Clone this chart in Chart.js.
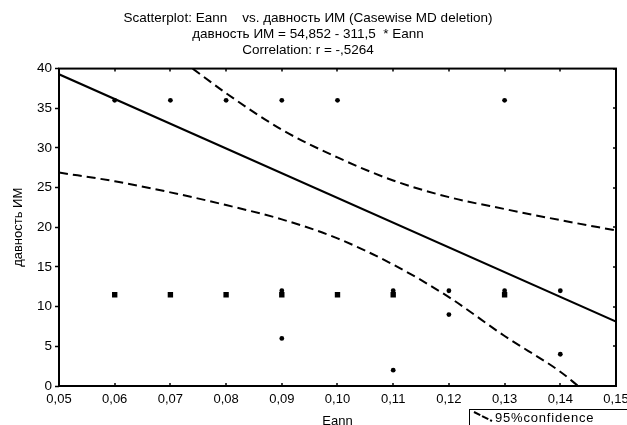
<!DOCTYPE html>
<html>
<head>
<meta charset="utf-8">
<script src="https://cdn.jsdelivr.net/npm/chart.js@4.4.1/dist/chart.umd.min.js"></script>
<style>
  html, body { margin: 0; padding: 0; background: #fff; overflow: hidden; }
  #wrap { width: 627px; height: 425px; overflow: hidden; background: #fff; }
</style>
</head>
<body>
<div id="wrap"><canvas id="scatter" width="640" height="440"></canvas></div>
<script>
// observed cases (single dots)
const eannDots = [0.06, 0.07, 0.08, 0.09, 0.10, 0.13, 0.09, 0.09, 0.11, 0.11, 0.12, 0.12, 0.13, 0.14, 0.14];
const imDots   = [36,   36,   36,   36,   36,   36,   12,   6,    12,   2,    12,   9,    12,   12,   4];

// repeated cases (drawn as heavier squares)
const eannStack = [0.06, 0.07, 0.08, 0.09, 0.10, 0.11, 0.13];
const imStack   = [11.5, 11.5, 11.5, 11.5, 11.5, 11.5, 11.5];

// regression line: давность ИМ = 54,852 - 311,5 * Eann
const fitX = [0.05, 0.15];
const fitY = [39.28, 8.13];

// 95% confidence band
const upperX = [0.074, 0.08, 0.09, 0.10, 0.11, 0.12, 0.13, 0.14, 0.15];
const upperY = [40,    36.9, 32.3, 28.8, 25.9, 23.8, 22.3, 20.9, 19.6];
const lowerX = [0.05, 0.06, 0.07, 0.08, 0.09, 0.10, 0.11, 0.12, 0.13, 0.14, 0.1432];
const lowerY = [26.9, 25.8, 24.4, 22.8, 21.0, 18.6, 15.3, 11.2, 6.3,  1.8,  0];

const xMin = 0.05, xMax = 0.15, xStep = 0.01;
const yMin = 0, yMax = 40, yStep = 5;

const titleLines = [
  'Scatterplot: Eann    vs. давность ИМ (Casewise MD deletion)',
  'давность ИМ = 54,852 - 311,5  * Eann',
  'Correlation: r = -,5264'
];
const xTitle = 'Eann';
const yTitle = 'давность ИМ';
const legendText = '95%confidence';

const FONT = 'Liberation Sans, Arial, sans-serif';
const DASH = [9, 5];

const pts = (xs, ys) => xs.map((x, i) => ({ x, y: ys[i] }));

/* frame, inner tick marks and the confidence legend */
const framePlugin = {
  id: 'frame',
  afterDraw(chart) {
    const { ctx, chartArea: a, scales: { x, y } } = chart;
    ctx.save();
    ctx.strokeStyle = '#000';
    ctx.lineWidth = 2;
    ctx.strokeRect(a.left, a.top, a.right - a.left, a.bottom - a.top);

    ctx.lineWidth = 1.5;
    ctx.beginPath();
    x.ticks.forEach(t => {
      const px = Math.round(x.getPixelForValue(t.value));
      ctx.moveTo(px, a.top);    ctx.lineTo(px, a.top + 3);
      ctx.moveTo(px, a.bottom); ctx.lineTo(px, a.bottom - 3);
    });
    y.ticks.forEach(t => {
      const py = Math.round(y.getPixelForValue(t.value));
      ctx.moveTo(a.right, py); ctx.lineTo(a.right - 3, py);
    });
    ctx.stroke();

    // legend box below the plot, partly off the edge
    const lx = a.left + 410, ly = a.bottom + 23;
    ctx.lineWidth = 1;
    ctx.strokeRect(lx + 0.5, ly + 0.5, 160, 30);
    ctx.lineWidth = 2;
    ctx.setLineDash([7, 2]);
    ctx.beginPath();
    ctx.moveTo(lx + 5, ly + 3);
    ctx.lineTo(lx + 23, ly + 12);
    ctx.stroke();
    ctx.setLineDash([]);
    ctx.fillStyle = '#000';
    ctx.font = '13px ' + FONT;
    ctx.letterSpacing = '0.8px';
    ctx.textBaseline = 'middle';
    ctx.textAlign = 'left';
    ctx.fillText(legendText, lx + 26, ly + 9);
    ctx.restore();
  }
};

new Chart(document.getElementById('scatter'), {
  type: 'scatter',
  data: {
    datasets: [
      {
        data: pts(fitX, fitY),
        showLine: true,
        borderColor: '#000',
        borderWidth: 2,
        pointRadius: 0,
      },
      {
        data: pts(upperX, upperY),
        showLine: true,
        borderColor: '#000',
        borderWidth: 2,
        borderDash: DASH,
        tension: 0.4,
        cubicInterpolationMode: 'monotone',
        pointRadius: 0,
      },
      {
        data: pts(lowerX, lowerY),
        showLine: true,
        borderColor: '#000',
        borderWidth: 2,
        borderDash: DASH,
        tension: 0.4,
        cubicInterpolationMode: 'monotone',
        pointRadius: 0,
      },
      {
        data: pts(eannDots, imDots),
        pointStyle: 'circle',
        pointRadius: 2.4,
        backgroundColor: '#000',
        borderColor: '#000',
        borderWidth: 0,
      },
      {
        data: pts(eannStack, imStack),
        pointStyle: 'rect',
        pointRadius: 3.8,
        backgroundColor: '#000',
        borderColor: '#000',
        borderWidth: 0,
      },
    ]
  },
  options: {
    responsive: false,
    animation: false,
    layout: { padding: { left: 0, top: 0, right: 24, bottom: 11 } },
    plugins: {
      legend: { display: false },
      tooltip: { enabled: false },
      title: {
        display: true,
        text: titleLines,
        color: '#000',
        font: { family: FONT, size: 13.5, weight: 'normal', lineHeight: 1.15 },
        padding: { top: 11, bottom: 11 },
      },
    },
    scales: {
      x: {
        type: 'linear',
        min: xMin,
        max: xMax,
        border: { display: false },
        grid: { display: true, drawOnChartArea: false, drawTicks: false },
        ticks: {
          stepSize: xStep,
          color: '#000',
          padding: 6,
          maxRotation: 0,
          font: { family: FONT, size: 13 },
          callback: v => v.toFixed(2).replace('.', ','),
        },
        title: {
          display: true,
          text: xTitle,
          color: '#000',
          font: { family: FONT, size: 13 },
          padding: { top: 0, bottom: 0 },
        },
        afterFit: s => { s.height = 43; },
      },
      y: {
        min: yMin,
        max: yMax,
        border: { display: false },
        grid: { display: true, drawOnChartArea: false, drawTicks: true, tickLength: 4, tickColor: '#000', tickWidth: 1.5 },
        ticks: {
          stepSize: yStep,
          color: '#000',
          padding: 3,
          font: { family: FONT, size: 13.5 },
        },
        title: {
          display: true,
          text: yTitle,
          color: '#000',
          font: { family: FONT, size: 13 },
          padding: { top: 11, bottom: 0 },
        },
        afterFit: s => { s.width = 59; },
      },
    },
  },
  plugins: [framePlugin],
});
</script>
</body>
</html>
